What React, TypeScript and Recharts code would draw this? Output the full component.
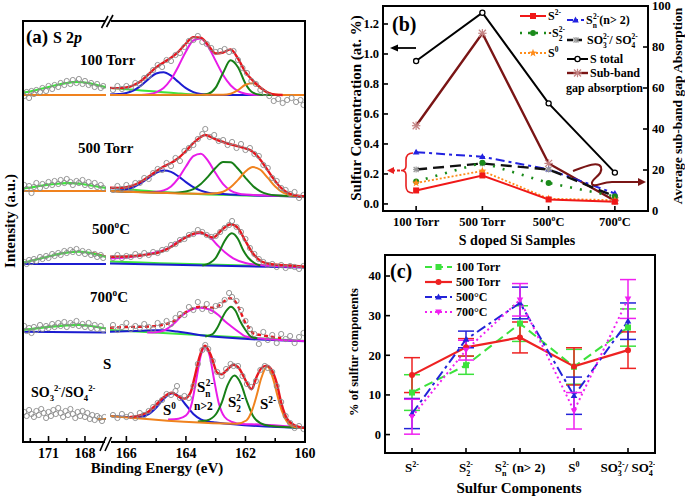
import React from 'react';
import { ComposedChart, Line, Scatter, XAxis, YAxis, ErrorBar } from 'recharts';

const FONT = '"Liberation Serif","Times New Roman",Times,serif';
type P = [number, number];

/* ================= (a) S 2p spectra : [binding energy (eV), intensity (a.u.)] ================= */
// ---- 100 Torr
const T100_pts: P[] = [[166.45,5],[166.3,9],[166.15,6],[166,9],[165.85,7],[165.7,12],[165.55,11],[165.4,17],[165.25,19],[165.1,25],[164.95,30],[164.8,28],[164.65,35],[164.5,34],[164.35,40],[164.2,42],[164.05,48],[163.9,54],[163.75,55],[163.6,59],[163.45,53],[163.3,51],[163.15,47],[163,43],[162.85,44],[162.7,46],[162.55,43],[162.4,44],[162.25,35],[162.1,27],[161.95,22],[161.8,14],[161.65,11],[161.5,5],[161.35,2],[161.2,-1],[161.05,-6],[160.9,-4],[160.75,-8],[160.6,-5],[160.45,-3],[160.3,-7],[160.15,-5],[160.05,-10]];
const T100_bg: P[] = [[166.55,7],[166.25,6.4],[166,5.8],[165.75,5.2],[165.5,4.6],[165.25,4],[165,3.4],[164.75,2.8],[164.5,2.2],[164.25,1.6],[164,1],[163.75,0.5],[163.4,0]];
const T100_blue: P[] = [[166.55,0.5],[166.25,1],[166,2],[165.75,4.6],[165.5,9.6],[165.25,16.1],[165,21.5],[164.75,22.8],[164.5,19.3],[164.25,13],[164,6.9],[163.75,2.9],[163.5,1],[163.25,0.3],[163,0],[160,0]];
const T100_mag: P[] = [[166.55,0],[165.5,0],[165.25,0.8],[165,2.7],[164.75,7],[164.5,15.7],[164.25,28.8],[164,43.6],[163.75,54.5],[163.5,56.4],[163.25,48.3],[163,34.1],[162.75,20],[162.5,9.7],[162.25,3.9],[162,1.3],[161.75,0.3],[161.5,0],[160,0]];
const T100_grn: P[] = [[166.55,0],[163.5,0],[163.25,1.2],[163,7.4],[162.75,22.3],[162.5,34.7],[162.25,27.7],[162,11.3],[161.75,2.3],[161.5,0.3],[161.25,0],[160,0]];
const T100_org: P[] = [[166.55,0],[162.75,0.2],[162.5,1.2],[162.25,4.8],[162,10.2],[161.75,11.7],[161.5,7.2],[161.25,2.4],[161,0.4],[160.75,0],[160,0]];
const T100_red: P[] = [[166.55,7.1],[166.25,6.9],[166,7.5],[165.75,9.8],[165.5,14.2],[165.25,20.9],[165,27.6],[164.75,32.6],[164.5,37.2],[164.25,43.4],[164,51.5],[163.75,57.9],[163.5,57.4],[163.25,49.8],[163,41.5],[162.75,42.5],[162.5,45.6],[162.25,36.4],[162,22.8],[161.75,14.3],[161.5,7.5],[161.25,2.4],[161,0.4],[160.75,0]];
const T100L_pts: P[] = [[173,-1],[172.8,3],[172.6,-3],[172.4,4],[172.2,1],[172,5],[171.7,3],[171.5,7],[171.2,4],[171,9],[170.7,6],[170.5,10],[170.2,8],[170,12],[169.7,10],[169.5,14],[169.2,11],[169,15],[168.7,12],[168.5,16],[168.2,11],[168,14],[167.7,10],[167.5,12],[167.2,8],[167,11],[166.7,7],[166.5,9]];
const T100L_bg: P[] = [[173.1,2.5],[172.5,3.5],[172,5],[171.5,6.5],[171,8],[170.5,9.5],[170,11],[169.5,12],[169,12.8],[168.5,13],[168,12.5],[167.5,11.5],[167,10],[166.5,8.5],[166.27,7.5]];
const T100L_base: P[] = [[173.1,0],[166.27,0]];

// ---- 500 Torr
const T500_pts: P[] = [[166.45,1],[166.3,5],[166.15,2],[166,6],[165.85,3],[165.7,8],[165.55,8],[165.4,13],[165.25,12],[165.1,18],[164.95,22],[164.8,21],[164.65,28],[164.5,25],[164.35,33],[164.2,30],[164.05,40],[163.9,43],[163.75,46],[163.6,52],[163.45,57],[163.35,62],[163.2,54],[163.05,56],[162.9,50],[162.75,51],[162.6,46],[162.45,49],[162.3,43],[162.15,47],[162,41],[161.85,43],[161.7,37],[161.55,35],[161.4,26],[161.25,23],[161.1,13],[160.95,10],[160.8,3],[160.65,1],[160.5,-3],[160.35,-1],[160.2,-7],[160.05,-4]];
const T500_bg: P[] = [[166.55,3],[166.25,2.4],[166,1.8],[165.75,1.2],[165.5,0.55],[165.25,-0.1],[165,-0.7],[164.5,-1.7],[160,-5.5]];
const T500_blue: P[] = [[166.55,0.2],[166.25,0.5],[166,1.6],[165.75,4],[165.5,8],[165.25,13.2],[165,18.1],[164.75,20.4],[164.5,19.1],[164.25,14.6],[164,8.9],[163.75,3.8],[163.5,0.35],[163.25,-1.7],[163,-2.6],[162.75,-3.1],[160,-5.5]];
const T500_mag: P[] = [[166.55,0],[165.25,-1.1],[165,-0.8],[164.75,0.6],[164.5,4.6],[164.25,12.9],[164,24.5],[163.75,34.8],[163.5,37.2],[163.25,29.9],[163,17.7],[162.75,6.9],[162.5,0.4],[162.25,-2.5],[162,-3.6],[160,-5.5]];
const T500_grn: P[] = [[166.55,0],[164.5,-1.7],[164.25,-1.5],[164,-0.6],[163.75,1.8],[163.5,6.9],[163.25,14.6],[163,23.3],[162.75,29],[162.5,28.7],[162.25,22.3],[162,13.2],[161.75,5.1],[161.5,-0.35],[161.25,-3.1],[161,-4.3],[160,-5.5]];
const T500_org: P[] = [[166.55,0],[163.25,-2.8],[163,-2.3],[162.75,-0.7],[162.5,3.7],[162.25,11.1],[162,19.4],[161.75,23.9],[161.5,21.2],[161.25,13.1],[161,4.5],[160.75,-1.3],[160.5,-4],[160.25,-5],[160,-5.5]];
const T500_red: P[] = [[166.55,3.2],[166.25,3.1],[166,3.8],[165.75,5.8],[165.5,9.5],[165.25,14.5],[165,19.8],[164.75,24.5],[164.5,28],[164.25,33],[164,40],[163.75,48],[163.5,54],[163.35,56],[163.1,53],[162.85,50],[162.6,47.5],[162.35,45.5],[162.1,43.5],[161.85,41],[161.6,35],[161.35,25],[161.1,14],[160.85,4.5],[160.6,-1.5],[160.3,-4.5],[160,-5.5]];
const T500L_pts: P[] = [[173,6],[172.8,2],[172.6,5],[172.4,-2],[172.2,4],[172,8],[171.7,3],[171.5,7],[171.2,5],[171,9],[170.7,6],[170.5,10],[170.2,7],[170,11],[169.7,8],[169.5,12],[169.2,9],[169,6],[168.7,10],[168.5,8],[168.2,11],[168,6],[167.7,9],[167.5,5],[167.2,8],[167,4],[166.7,6],[166.5,3]];
const T500L_bg: P[] = [[173.1,2.5],[172.5,3.5],[172,4.5],[171.5,5.5],[171,6.3],[170.5,7],[170,7.5],[169.5,7.8],[169,7.8],[168.5,7.3],[168,6.5],[167.5,5.5],[167,4.5],[166.5,3.5],[166.27,3]];
const T500L_base: P[] = [[173.1,0],[166.27,0]];

// ---- 500 C
const C500_pts: P[] = [[166.45,5],[166.3,8],[166.15,5],[166,7],[165.85,6],[165.7,9],[165.55,7],[165.4,10],[165.25,8],[165.1,11],[164.95,10],[164.8,13],[164.65,14],[164.5,18],[164.35,19],[164.2,23],[164.05,24],[163.9,28],[163.75,29],[163.6,33],[163.45,31],[163.3,28],[163.15,26],[163,27],[162.85,31],[162.7,35],[162.55,38],[162.45,42],[162.3,36],[162.15,31],[162,24],[161.85,15],[161.7,9],[161.55,4],[161.4,1],[161.25,-2],[161.1,-1],[160.95,-4],[160.8,-2],[160.65,-5],[160.5,-3],[160.35,-4],[160.2,-6],[160.05,-3]];
const C500_bg: P[] = [[166.55,1.5],[165.5,0.5],[164.5,-0.5],[160,-4]];
const C500_blue: P[] = [[166.55,-0.5],[160,-4.5]];
const C500_mag: P[] = [[166.55,4.7],[166,5.5],[165.6,7],[165.1,10],[164.6,14.7],[164.15,23.5],[163.8,28.3],[163.55,29.7],[163.25,27.3],[162.97,18.7],[162.69,10.7],[162.41,4.7],[162,0],[161.5,-2],[160,-4]];
const C500_grn: P[] = [[163.45,-2.5],[163.2,0],[163,5],[162.85,13],[162.7,22],[162.46,29.7],[162.25,24],[162.08,13],[161.9,5],[161.7,0],[161.5,-2.5]];
const C500_red: P[] = [[166.55,6.3],[166,6.5],[165.4,8],[164.9,10.7],[164.5,16],[164.15,23],[163.8,28.7],[163.52,30.7],[163.3,27.5],[163.08,25.5],[162.8,33],[162.49,38.7],[162.24,34.5],[162.02,23],[161.79,11.3],[161.46,1.5],[161.12,-1.3],[160.5,-2.5],[160,-3.7]];
const C500L_pts: P[] = [[173,1],[172.8,-1],[172.6,3],[172.4,1],[172.2,4],[172,2],[171.7,6],[171.5,4],[171.2,7],[171,5],[170.7,9],[170.5,7],[170.2,10],[170,8],[169.7,12],[169.5,10],[169.2,13],[169,11],[168.7,14],[168.5,10],[168.2,12],[168,9],[167.7,11],[167.5,8],[167.2,9],[167,6],[166.7,8],[166.5,5]];
const C500L_bg: P[] = [[173.1,0.5],[172.5,2],[172,3.5],[171.5,5],[171,6.5],[170.5,8],[170,9.3],[169.5,10.3],[169,11],[168.5,11.3],[168,10.8],[167.5,9.8],[167,8.3],[166.5,6.8],[166.27,6]];
const C500L_base: P[] = [[173.1,-1],[166.27,-1]];
const C500L_red: P[] = [[167.5,10.3],[167,8.9],[166.5,7.2],[166.27,6.5]];

// ---- 700 C
const C700_pts: P[] = [[166.45,6],[166.3,1],[166.15,4],[166,8],[165.85,2],[165.7,5],[165.55,3],[165.4,7],[165.25,4],[165.1,2],[164.95,8],[164.8,5],[164.65,10],[164.5,7],[164.35,13],[164.2,17],[164.05,16],[163.9,24],[163.75,21],[163.6,29],[163.45,22],[163.3,27],[163.15,20],[163,25],[162.85,26],[162.7,31],[162.55,38],[162.45,34],[162.3,30],[162.15,21],[162,10],[161.85,2],[161.7,-3],[161.55,-13],[161.4,-1],[161.25,-9],[161.1,-4],[160.95,-12],[160.8,-3],[160.65,-8],[160.5,-5],[160.35,-12],[160.2,-6],[160.05,-2]];
const C700_bg: P[] = [[166.55,1],[160,-10]];
const C700_blue: P[] = [[166.55,-0.7],[166,-0.3],[165.5,0.2],[165,0.7],[164.7,0.7],[164.3,-0.5],[163.9,-2.3],[163.5,-4.2],[160,-10.3]];
const C700_mag: P[] = [[165.3,-1.5],[165,-1.2],[164.7,1],[164.4,7.5],[164.14,15.3],[163.85,21],[163.52,23.3],[163.2,21.5],[162.91,16],[162.7,10],[162.46,4.3],[162.2,-1.5],[162.02,-5.2],[161.5,-7.5],[160,-10]];
const C700_grn: P[] = [[163.35,-5.5],[163.1,-3],[162.95,3],[162.8,12],[162.65,20],[162.49,24.3],[162.33,20],[162.18,10],[162,1],[161.8,-6],[161.6,-7.3]];
const C700_red: P[] = [[166.55,3.3],[166,4],[165.37,4.3],[164.7,6.7],[164.4,10],[164.14,16],[163.85,21.5],[163.52,24.3],[163.25,23.5],[163.02,23.3],[162.75,29],[162.52,32.7],[162.3,27.7],[162.15,18],[162.02,9.3],[161.85,2],[161.74,-2.3],[161.35,-4.7],[160.8,-7]];
const C700L_pts: P[] = [[173,5],[172.8,0],[172.6,3],[172.4,-2],[172.2,4],[172,1],[171.7,6],[171.5,2],[171.2,5],[171,3],[170.7,7],[170.5,4],[170.2,8],[170,5],[169.7,9],[169.5,4],[169.2,8],[169,6],[168.7,10],[168.5,5],[168.2,7],[168,4],[167.7,8],[167.5,3],[167.2,6],[167,2],[166.7,5],[166.5,1]];
const C700L_bg: P[] = [[173.1,1],[172.5,1.8],[172,2.6],[171.5,3.4],[171,4.1],[170.5,4.7],[170,5.2],[169.5,5.6],[169,5.9],[168.5,6],[168,5.7],[167.5,5],[167,4],[166.5,3],[166.27,2.7]];
const C700L_base: P[] = [[173.1,-0.7],[166.27,-1.5]];

// ---- elemental S reference
const S_pts: P[] = [[166.45,1],[166.3,-2],[166.15,2],[166,-1],[165.85,1],[165.7,-2],[165.55,3],[165.4,1],[165.25,5],[165.1,9],[164.95,13],[164.8,16],[164.65,22],[164.5,21],[164.35,25],[164.3,30],[164.2,18],[164.05,20],[163.9,18],[163.75,30],[163.6,52],[163.45,66],[163.35,71],[163.25,67],[163.1,55],[162.95,44],[162.8,40],[162.65,47],[162.5,52],[162.4,50],[162.25,50],[162.1,40],[161.95,32],[161.8,29],[161.65,35],[161.5,46],[161.35,50],[161.25,48],[161.1,44],[160.95,30],[160.8,14],[160.65,0],[160.5,-7],[160.35,-12],[160.2,-10],[160.05,-13]];
const S_blue: P[] = [[166.54,0],[166,-0.9],[165.75,-1.25],[165.5,-0.7],[165.25,1.9],[165,8.3],[164.75,17.1],[164.44,22.8],[164.25,19.9],[164,11],[163.75,2],[163.5,-3.3],[163.25,-5.5],[163,-6.5],[160,-12]];
const S_mag: P[] = [[164.6,-3.6],[164.25,-2.7],[164,0.4],[163.8,13],[163.65,36.7],[163.5,60.4],[163.36,69.2],[163.2,59.9],[163.05,35.6],[162.9,13.3],[162.7,-1],[162.45,-6],[162.1,-8.1],[161.5,-8.5],[160.5,-10.5],[160,-11.5]];
const S_grn: P[] = [[163.6,-5.4],[163.3,-4.4],[163,1.5],[162.8,13.2],[162.6,30.8],[162.37,40.4],[162.15,32],[161.95,14.6],[161.75,0.2],[161.5,-7.2],[161.2,-9.8],[160,-12]];
const S_org: P[] = [[166.54,0],[162.3,-7.7],[161.97,-4.5],[161.77,6.3],[161.62,21],[161.47,37.7],[161.27,49.4],[161.07,37],[160.92,19.7],[160.77,4.5],[160.57,-7.1],[160.37,-10.7],[160,-12]];
const S_red: P[] = [[165.9,-1.2],[165.5,1.1],[165.25,4.6],[165,11.2],[164.75,18.7],[164.47,23.2],[164.25,19.3],[164.05,17.4],[163.85,23.1],[163.7,39.8],[163.55,58.5],[163.36,70.2],[163.15,59.8],[162.95,43.4],[162.8,41.7],[162.63,45.8],[162.41,51.2],[162.2,47.1],[161.98,34.7],[161.8,26.8],[161.62,39.6],[161.46,48],[161.29,50.4],[161.12,46.1],[160.95,32.8],[160.8,13.5],[160.6,-2.9],[160.35,-9.3],[160,-12]];
const SL_pts: P[] = [[173,4],[172.8,0],[172.6,6],[172.4,2],[172.2,-1],[172,5],[171.8,1],[171.6,7],[171.4,3],[171.2,-2],[171,4],[170.8,0],[170.6,6],[170.4,2],[170.2,8],[170,3],[169.8,-1],[169.6,5],[169.4,1],[169.2,7],[169,2],[168.8,-2],[168.6,4],[168.4,0],[168.2,5],[168,-1],[167.8,3],[167.6,-3],[167.4,1],[167.2,-4],[167,0],[166.8,-2],[166.6,-5],[166.4,-1]];
const SL_base: P[] = [[167,-3],[166.27,-3]];

// vertical stacking offsets of the spectra (a.u.)
const OFF_T100 = 347, OFF_T500 = 251, OFF_C500 = 179, OFF_C700 = 111, OFF_S = 26;

/* ================= (b) concentrations ================= */
const SAMPLES = ['100 Torr', '500 Torr', '500°C', '700°C'];
const CONC_S2 = [0.09, 0.19, 0.03, 0.015];
const CONC_S22 = [0.15, 0.275, 0.14, 0.05];
const CONC_SN = [0.345, 0.315, 0.23, 0.07];
const CONC_SO = [0.23, 0.27, 0.23, 0.05];
const CONC_S0 = [0.14, 0.22, 0.035, 0.025];
const CONC_TOTAL = [0.953, 1.275, 0.671, 0.209];
const ABSORPTION = [41.6, 86.7, 23.2, 5];

/* ================= (c) % of components ================= */
const P100 = [10.6, 17.5, 28.0, 17.1, 27.0];
const E100 = [4.5, 2.3, 4.5, 4.4, 4.7];
const P500 = [15.0, 22.0, 24.5, 17.2, 21.3];
const E500 = [4.4, 2.2, 3.9, 4.7, 4.6];
const P500C = [5.3, 24.0, 33.2, 9.8, 28.6];
const E500C = [3.8, 2.1, 4.0, 4.7, 4.6];
const P700C = [4.5, 21.3, 34.0, 6.0, 34.2];
const E700C = [4.4, 2.5, 4.1, 4.6, 4.9];

/* ================= helpers ================= */
const COL = { red: '#E8161E', blue: '#1C1CD0', mag: '#E81CE8', dgrn: '#177F17', org: '#F0821E', lgrn: '#3CE63C', pt: '#8A8A8A' };

const toXY = (arr: P[], off: number) => arr.map(([e, v]) => ({ e, v: v + off }));

type ChemPart = string | { sub?: string; sup?: string; flat?: boolean };
function chem(parts: ChemPart[], fs: number) {
  const nodes: React.ReactNode[] = [];
  let shift = 0;
  const small = fs * 0.62;
  parts.forEach((p, i) => {
    if (typeof p === 'string') {
      nodes.push(<tspan key={i} dy={-shift} fontSize={fs}>{p}</tspan>);
      shift = 0;
    } else {
      if (p.sub) {
        const d = fs * 0.3;
        nodes.push(<tspan key={i + 'b'} dy={d - shift} fontSize={small}>{p.sub}</tspan>);
        shift = d;
      }
      if (p.sup) {
        const d = -fs * 0.42;
        const dx = p.sub && !p.flat ? -p.sub.length * small * 0.5 : 0;
        nodes.push(<tspan key={i + 'p'} dx={dx} dy={d - shift} fontSize={small}>{p.sup}</tspan>);
        shift = d;
      }
    }
  });
  return nodes;
}

function Mark({ shape, cx, cy, color, size = 7 }: any) {
  const s = size / 2;
  if (cx == null || cy == null) return null;
  switch (shape) {
    case 'square':
      return <rect x={cx - s} y={cy - s} width={size} height={size} fill={color} />;
    case 'circle':
      return <circle cx={cx} cy={cy} r={s} fill={color} />;
    case 'ocircle':
      return <circle cx={cx} cy={cy} r={s * 0.85} fill="#fff" stroke={color} strokeWidth={1.3} />;
    case 'tri':
      return <polygon points={`${cx},${cy - s * 1.15} ${cx + s * 1.1},${cy + s * 0.8} ${cx - s * 1.1},${cy + s * 0.8}`} fill={color} />;
    case 'itri':
      return <polygon points={`${cx},${cy + s * 1.15} ${cx + s * 1.1},${cy - s * 0.8} ${cx - s * 1.1},${cy - s * 0.8}`} fill={color} />;
    case 'star': {
      const pts: string[] = [];
      for (let k = 0; k < 10; k++) {
        const r = k % 2 === 0 ? s * 1.2 : s * 0.5;
        const a = -Math.PI / 2 + (k * Math.PI) / 5;
        pts.push(`${cx + r * Math.cos(a)},${cy + r * Math.sin(a)}`);
      }
      return <polygon points={pts.join(' ')} fill={color} />;
    }
    case 'aster':
      return (
        <g stroke={color} strokeWidth={1.2}>
          <line x1={cx - s} y1={cy - s} x2={cx + s} y2={cy + s} />
          <line x1={cx - s} y1={cy + s} x2={cx + s} y2={cy - s} />
          <line x1={cx - s * 1.2} y1={cy} x2={cx + s * 1.2} y2={cy} />
          <line x1={cx} y1={cy - s * 1.2} x2={cx} y2={cy + s * 1.2} />
        </g>
      );
    default:
      return null;
  }
}

const dotOf = (shape: string, color: string, size = 7) => (p: any) => (
  <Mark key={`d${p.index}`} shape={shape} cx={p.cx} cy={p.cy} color={color} size={size} />
);

const bold = { fontFamily: FONT, fontWeight: 700 as const, fill: '#000' };

const xTick = (fmt: (v: number) => React.ReactNode, len: (v: number) => number, dy: number, fs: number) => (p: any) => {
  const v = p.payload.value;
  const lab = fmt(v);
  return (
    <g>
      <line x1={p.x} x2={p.x} y1={p.y} y2={p.y - len(v)} stroke="#000" strokeWidth={1.6} />
      {lab != null && (
        <text x={p.x} y={p.y + dy} textAnchor="middle" fontSize={fs} {...bold}>
          {lab}
        </text>
      )}
    </g>
  );
};
const yTickL = (fmt: (v: number) => string, fs: number) => (p: any) => (
  <g>
    <line x1={p.x} x2={p.x + 5} y1={p.y} y2={p.y} stroke="#000" strokeWidth={1.6} />
    <text x={p.x - 4} y={p.y + fs * 0.35} textAnchor="end" fontSize={fs} {...bold}>{fmt(p.payload.value)}</text>
  </g>
);
const yTickR = (fmt: (v: number) => string, fs: number) => (p: any) => (
  <g>
    <line x1={p.x} x2={p.x - 5} y1={p.y} y2={p.y} stroke="#000" strokeWidth={1.6} />
    <text x={p.x + 4} y={p.y + fs * 0.35} textAnchor="start" fontSize={fs} {...bold}>{fmt(p.payload.value)}</text>
  </g>
);

function curve(key: string, data: P[], off: number, color: string, w = 2, dash?: string) {
  return (
    <Line key={key} data={toXY(data, off)} dataKey="v" type="monotone" stroke={color} strokeWidth={w}
      strokeDasharray={dash} dot={false} activeDot={false} isAnimationActive={false} />
  );
}
function points(key: string, data: P[], off: number) {
  return (
    <Scatter key={key} data={toXY(data, off)} dataKey="v" isAnimationActive={false}
      shape={(p: any) => <circle cx={p.cx} cy={p.cy} r={2.6} fill="none" stroke={COL.pt} strokeWidth={0.9} />} />
  );
}

/* ---- (a) series ---- */
const RIGHT_SERIES = [
  points('p1', T100_pts, OFF_T100), curve('bg1', T100_bg, OFF_T100, COL.lgrn), curve('b1', T100_blue, OFF_T100, COL.blue),
  curve('m1', T100_mag, OFF_T100, COL.mag), curve('g1', T100_grn, OFF_T100, COL.dgrn), curve('o1', T100_org, OFF_T100, COL.org),
  curve('r1', T100_red, OFF_T100, COL.red, 2.4),
  points('p2', T500_pts, OFF_T500), curve('bg2', T500_bg, OFF_T500, COL.lgrn), curve('b2', T500_blue, OFF_T500, COL.blue),
  curve('m2', T500_mag, OFF_T500, COL.mag), curve('g2', T500_grn, OFF_T500, COL.dgrn), curve('o2', T500_org, OFF_T500, COL.org),
  curve('r2', T500_red, OFF_T500, COL.red, 2.4),
  points('p3', C500_pts, OFF_C500), curve('bg3', C500_bg, OFF_C500, COL.lgrn), curve('b3', C500_blue, OFF_C500, COL.blue),
  curve('m3', C500_mag, OFF_C500, COL.mag), curve('g3', C500_grn, OFF_C500, COL.dgrn), curve('r3', C500_red, OFF_C500, COL.red, 2.4),
  points('p4', C700_pts, OFF_C700), curve('bg4', C700_bg, OFF_C700, COL.lgrn), curve('b4', C700_blue, OFF_C700, COL.blue),
  curve('m4', C700_mag, OFF_C700, COL.mag), curve('g4', C700_grn, OFF_C700, COL.dgrn), curve('r4', C700_red, OFF_C700, COL.red, 2.4, '4 3'),
  points('p5', S_pts, OFF_S), curve('b5', S_blue, OFF_S, COL.blue), curve('m5', S_mag, OFF_S, COL.mag),
  curve('g5', S_grn, OFF_S, COL.dgrn), curve('o5', S_org, OFF_S, COL.org), curve('r5', S_red, OFF_S, COL.red, 2.4),
];
const LEFT_SERIES = [
  points('lp1', T100L_pts, OFF_T100), curve('lb1', T100L_base, OFF_T100, COL.org), curve('lg1', T100L_bg, OFF_T100, COL.lgrn, 2.2),
  points('lp2', T500L_pts, OFF_T500), curve('lb2', T500L_base, OFF_T500, COL.org), curve('lg2', T500L_bg, OFF_T500, COL.lgrn, 2.2),
  points('lp3', C500L_pts, OFF_C500), curve('lb3', C500L_base, OFF_C500, COL.blue), curve('lr3', C500L_red, OFF_C500, COL.red), curve('lg3', C500L_bg, OFF_C500, COL.lgrn, 2.2),
  points('lp4', C700L_pts, OFF_C700), curve('lb4', C700L_base, OFF_C700, COL.blue), curve('lg4', C700L_bg, OFF_C700, COL.lgrn, 2.2),
  points('lp5', SL_pts, OFF_S), curve('lb5', SL_base, OFF_S, COL.org),
];

function SpecChart({ left, plotW, padL, padR, domain, ticks, labels, children }: any) {
  return (
    <div style={{ position: 'absolute', left: left - padL, top: 21 }}>
      <ComposedChart width={plotW + padL + padR} height={451} margin={{ top: 0, right: padR, bottom: 0, left: padL }}>
        <XAxis dataKey="e" type="number" domain={domain} reversed allowDataOverflow ticks={ticks} interval={0}
          tickSize={0} tickMargin={0} axisLine={false} tickLine={false} height={30}
          tick={xTick((v) => labels[String(v)] ?? null, (v) => (labels[String(v)] ? 6 : 4), 16, 14)} />
        <YAxis hide type="number" domain={[0, 421]} allowDataOverflow />
        {children}
      </ComposedChart>
    </div>
  );
}

/* ---- (b)/(c) rows ---- */
const B_ROWS = SAMPLES.map((s, i) => ({
  x: i, s2: CONC_S2[i], s22: CONC_S22[i], sn: CONC_SN[i], so: CONC_SO[i], s0: CONC_S0[i], tot: CONC_TOTAL[i], abs: ABSORPTION[i],
}));
const C_ROWS = P100.map((_, i) => ({
  x: i, p100: P100[i], e100: E100[i], p500: P500[i], e500: E500[i], p500c: P500C[i], e500c: E500C[i], p700c: P700C[i], e700c: E700C[i],
}));

const SAMPLE_LABELS: ChemPart[][] = [['100 Torr'], ['500 Torr'], ['500', { sup: 'o' }, 'C'], ['700', { sup: 'o' }, 'C']];
const COMP_LABELS: ChemPart[][] = [
  ['S', { sup: '2-' }],
  ['S', { sub: '2', sup: '2-' }],
  ['S', { sub: 'n', sup: '2-' }, ' (n> 2)'],
  ['S', { sup: '0' }],
  ['SO', { sub: '3', sup: '2-' }, '/ SO', { sub: '4', sup: '2-' }],
];

function Frame({ x, y, w, h }: any) {
  return (
    <div style={{ position: 'absolute', left: x - 1, top: y - 1, width: w + 2, height: h + 2, border: '2px solid #000', boxSizing: 'border-box', pointerEvents: 'none' }} />
  );
}

function Overlay() {
  const t = (x: number, y: number, fs: number, content: React.ReactNode, anchor: 'start' | 'middle' | 'end' = 'start') => (
    <text x={x} y={y} fontSize={fs} textAnchor={anchor} {...bold}>{content}</text>
  );
  const legB = (x1: number, x2: number, y: number, color: string, w: number, dash: string | undefined, shape: string, mc: string, ms = 7) => (
    <g>
      <line x1={x1} x2={x2} y1={y} y2={y} stroke={color} strokeWidth={w} strokeDasharray={dash} />
      <Mark shape={shape} cx={(x1 + x2) / 2} cy={y} color={mc} size={ms} />
    </g>
  );
  return (
    <svg width={685} height={497} style={{ position: 'absolute', left: 0, top: 0, pointerEvents: 'none' }}>
      {/* ---------- (a) ---------- */}
      {t(26, 43, 19, '(a)')}
      {t(53, 43, 16, <>S 2<tspan fontStyle="italic">p</tspan></>)}
      {t(80, 65, 15, '100 Torr')}
      {t(78, 153, 15, '500 Torr')}
      {t(92, 234, 15, chem(['500', { sup: 'o' }, 'C'], 15))}
      {t(90, 302, 15, chem(['700', { sup: 'o' }, 'C'], 15))}
      {t(103, 369, 15, 'S')}
      {t(31, 397, 14, chem(['SO', { sub: '3', sup: '2-', flat: true }, '/SO', { sub: '4', sup: '2-', flat: true }], 14))}
      {t(163, 415, 15, chem(['S', { sup: '0' }], 15))}
      {t(197, 392, 15, chem(['S', { sub: 'n', sup: '2-' }], 15))}
      {t(194, 410, 11.5, 'n>2')}
      {t(228, 407, 15, chem(['S', { sub: '2', sup: '2-' }], 15))}
      {t(260, 409, 15, chem(['S', { sup: '2-' }], 15))}
      <text transform="translate(15,221) rotate(-90)" fontSize={15} textAnchor="middle" {...bold}>Intensity (a.u.)</text>
      {t(157, 473, 15, 'Binding Energy (eV)', 'middle')}
      {/* axis breaks */}
      <rect x={105} y={18} width={6} height={6} fill="#fff" />
      <rect x={105} y={439} width={6} height={6} fill="#fff" />
      <g stroke="#000" strokeWidth={1.6}>
        <line x1={101.5} y1={28} x2={108} y2={16} />
        <line x1={106.5} y1={27} x2={113} y2={15} />
        <line x1={100} y1={451} x2={106} y2={437} />
        <line x1={105} y1={451} x2={111.5} y2={437} />
      </g>

      {/* ---------- (b) ---------- */}
      {t(392, 31, 20, '(b)')}
      <line x1={416} x2={396} y1={48} y2={48} stroke="#000" strokeWidth={1.8} />
      <polygon points="390,48 398,44.5 398,51.5" fill="#000" />
      <path d="M413,153 Q406,153 406,160 L406,166 Q406,170.5 401,170.5 Q406,170.5 406,175 L406,186 Q406,193 413,193" fill="none" stroke="#E82020" strokeWidth={1.6} />
      <line x1={400} x2={393} y1={170.5} y2={170.5} stroke="#E82020" strokeWidth={1.8} strokeDasharray="3 2" />
      <polygon points="387,170.5 394,167 394,174" fill="#E82020" />
      <path d="M573,171 C586,166 598,161 601,167 C604,175 590,179 592,184 C594,188 602,182 612,182 L640,182" fill="none" stroke="#7A1515" strokeWidth={2} />
      <polygon points="646,182 638,178 638,186" fill="#7A1515" />
      {/* legend (b) */}
      {legB(520, 546, 16, '#F01818', 2, undefined, 'square', '#F01818', 6)}
      {t(548, 20, 12, chem(['S', { sup: '2-' }], 12))}
      {legB(520, 546, 33, '#1A8A1A', 2.4, '2 6', 'circle', '#1A8A1A', 6)}
      {t(548, 37, 12, chem(['·S', { sub: '2', sup: '2-' }], 12))}
      {legB(520, 546, 53, '#FF8C1A', 1.8, '2 2', 'star', '#FF8C1A', 7)}
      {t(548, 57, 12, chem(['S', { sup: '0' }], 12))}
      {legB(567, 584, 20, '#2222E0', 2, '6 3 2 3', 'tri', '#2222E0', 6)}
      {t(586, 24, 12, chem(['S', { sub: 'n', sup: '2-' }, '(n> 2)'], 12))}
      {legB(567, 585, 40, '#111', 2.4, '6 3', 'aster', '#999', 5)}
      {t(587, 44, 12, chem(['SO', { sub: '3', sup: '2-' }, '/ SO', { sub: '4', sup: '2-' }], 12))}
      {legB(567, 588, 59, '#000', 2, undefined, 'ocircle', '#000', 6)}
      {t(590, 63, 12, 'S total')}
      {legB(567, 588, 73, '#7A1515', 2.4, undefined, 'aster', '#C48484', 7)}
      {t(590, 77, 12, 'Sub-band')}
      {t(566, 92, 12, 'gap absorption')}
      <text transform="translate(361,108) rotate(-90)" fontSize={15} textAnchor="middle" {...bold}>Sulfur Concentration (at. %)</text>
      <text transform="translate(682,106) rotate(-90)" fontSize={13.5} textAnchor="middle" {...bold}>Average sub-band gap Absorption</text>
      {t(517, 245, 14, 'S doped Si Samples', 'middle')}

      {/* ---------- (c) ---------- */}
      {t(390, 278, 20, '(c)')}
      {legB(425, 452, 267, '#3CE23C', 2, '7 4', 'square', '#3CE23C', 6)}
      {t(456, 271, 12, '100 Torr')}
      {legB(425, 452, 282, '#EE2222', 2.2, undefined, 'circle', '#EE2222', 6)}
      {t(456, 286, 12, '500 Torr')}
      {legB(425, 452, 297, '#2323D8', 2, '7 3 2 3', 'tri', '#2323D8', 6)}
      {t(456, 301, 12, '500°C')}
      {legB(425, 452, 312, '#F020F0', 2, '2 3', 'itri', '#F020F0', 6)}
      {t(456, 316, 12, '700°C')}
      <text transform="translate(358,352) rotate(-90)" fontSize={12.5} textAnchor="middle" {...bold}>% of sulfur components</text>
      {t(519, 493, 15, 'Sulfur Components', 'middle')}
    </svg>
  );
}

export default function App() {
  const labelsL: Record<string, string> = { '171': '171', '168': '168' };
  const labelsR: Record<string, string> = { '166': '166', '164': '164', '162': '162', '160': '160' };
  return (
    <div style={{ position: 'absolute', left: 0, top: 0, width: 685, height: 497, background: '#fff', overflow: 'hidden' }}>
      {/* (a) left segment */}
      <SpecChart left={23} plotW={83} padL={15} padR={0} domain={[166.27, 173.1]} ticks={[172.5, 171, 169.5, 168]} labels={labelsL}>
        {LEFT_SERIES}
      </SpecChart>
      {/* (a) right segment */}
      <SpecChart left={110} plotW={195} padL={0} padR={20} domain={[160, 166.55]} ticks={[166, 165, 164, 163, 162, 161, 160]} labels={labelsR}>
        {RIGHT_SERIES}
      </SpecChart>

      {/* (b) */}
      <div style={{ position: 'absolute', left: 343, top: 0 }}>
        <ComposedChart width={345} height={241} data={B_ROWS} margin={{ top: 6, right: 0, bottom: 0, left: 0 }}>
          <XAxis dataKey="x" type="number" domain={[-0.5, 3.5]} ticks={[0, 1, 2, 3]} interval={0} allowDataOverflow
            tickSize={0} tickMargin={0} axisLine={false} tickLine={false} height={30}
            tick={xTick((v) => chem(SAMPLE_LABELS[v], 12.5), () => 5, 15, 12.5)} />
          <YAxis yAxisId="l" type="number" domain={[-0.047, 1.32]} ticks={[0, 0.2, 0.4, 0.6, 0.8, 1.0, 1.2]} interval={0} allowDataOverflow
            width={40} tickSize={0} tickMargin={0} axisLine={false} tickLine={false} tick={yTickL((v) => v.toFixed(1), 12.5)} />
          <YAxis yAxisId="r" orientation="right" type="number" domain={[0, 100]} ticks={[0, 20, 40, 60, 80, 100]} interval={0} allowDataOverflow
            width={40} tickSize={0} tickMargin={0} axisLine={false} tickLine={false} tick={yTickR((v) => String(v), 12.5)} />
          <Line yAxisId="l" dataKey="tot" stroke="#000" strokeWidth={2} dot={dotOf('ocircle', '#000', 6)} isAnimationActive={false} />
          <Line yAxisId="r" dataKey="abs" stroke="#7A1515" strokeWidth={2.4} dot={dotOf('aster', '#C48484', 7)} isAnimationActive={false} />
          <Line yAxisId="l" dataKey="sn" stroke="#2222E0" strokeWidth={2} strokeDasharray="9 4 3 4" dot={dotOf('tri', '#2222E0', 6)} isAnimationActive={false} />
          <Line yAxisId="l" dataKey="so" stroke="#111" strokeWidth={2.4} strokeDasharray="11 6" dot={dotOf('aster', '#999', 5)} isAnimationActive={false} />
          <Line yAxisId="l" dataKey="s22" stroke="#1A8A1A" strokeWidth={2.6} strokeDasharray="2 8" dot={dotOf('circle', '#1A8A1A', 6)} isAnimationActive={false} />
          <Line yAxisId="l" dataKey="s0" stroke="#FF8C1A" strokeWidth={1.8} strokeDasharray="2 2" dot={dotOf('star', '#FF8C1A', 7)} isAnimationActive={false} />
          <Line yAxisId="l" dataKey="s2" stroke="#F01818" strokeWidth={2} dot={dotOf('square', '#F01818', 6)} isAnimationActive={false} />
        </ComposedChart>
      </div>

      {/* (c) */}
      <div style={{ position: 'absolute', left: 345, top: 255 }}>
        <ComposedChart width={310} height={228} data={C_ROWS} margin={{ top: 0, right: 0, bottom: 0, left: 0 }}>
          <XAxis dataKey="x" type="number" domain={[-0.5, 4.5]} ticks={[0, 1, 2, 3, 4]} interval={0} allowDataOverflow
            tickSize={0} tickMargin={0} axisLine={false} tickLine={false} height={30}
            tick={xTick((v) => chem(COMP_LABELS[v], 13), () => 5, 19, 13)} />
          <YAxis type="number" domain={[-4.65, 45.3]} ticks={[0, 10, 20, 30, 40]} interval={0} allowDataOverflow
            width={40} tickSize={0} tickMargin={0} axisLine={false} tickLine={false} tick={yTickL((v) => String(v), 12.5)} />
          <Line dataKey="p100" stroke="#3CE23C" strokeWidth={2} strokeDasharray="9 5" dot={dotOf('square', '#3CE23C', 6)} isAnimationActive={false}>
            <ErrorBar dataKey="e100" direction="y" width={8} stroke="#3CE23C" strokeWidth={1.5} />
          </Line>
          <Line dataKey="p500" stroke="#EE2222" strokeWidth={2.2} dot={dotOf('circle', '#EE2222', 6)} isAnimationActive={false}>
            <ErrorBar dataKey="e500" direction="y" width={8} stroke="#EE2222" strokeWidth={1.5} />
          </Line>
          <Line dataKey="p500c" stroke="#2323D8" strokeWidth={2} strokeDasharray="10 4 3 4" dot={dotOf('tri', '#2323D8', 6)} isAnimationActive={false}>
            <ErrorBar dataKey="e500c" direction="y" width={8} stroke="#2323D8" strokeWidth={1.5} />
          </Line>
          <Line dataKey="p700c" stroke="#F020F0" strokeWidth={2} strokeDasharray="2 3" dot={dotOf('itri', '#F020F0', 6)} isAnimationActive={false}>
            <ErrorBar dataKey="e700c" direction="y" width={8} stroke="#F020F0" strokeWidth={1.5} />
          </Line>
        </ComposedChart>
      </div>

      <Frame x={23} y={21} w={282} h={421} />
      <Frame x={383} y={6} w={265} h={205} />
      <Frame x={385} y={255} w={270} h={198} />
      <Overlay />
    </div>
  );
}
